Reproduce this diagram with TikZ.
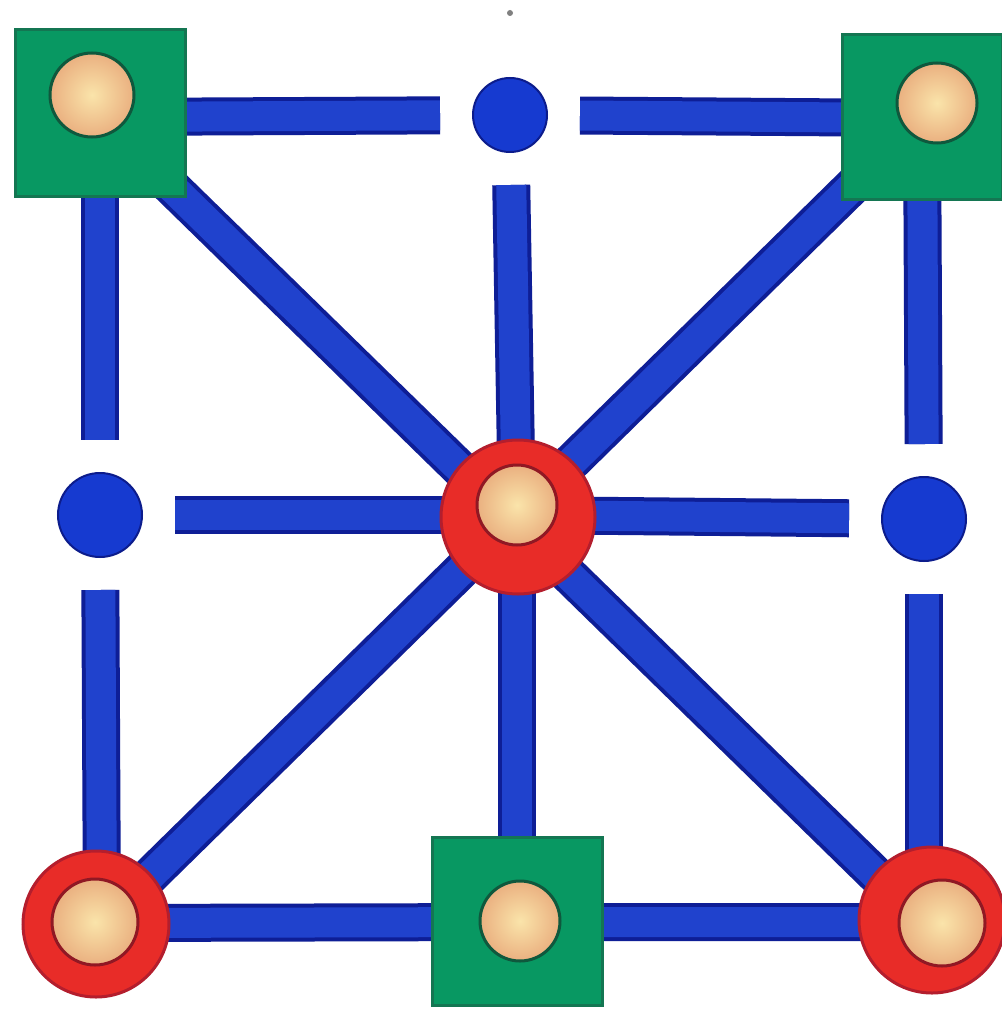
\documentclass[tikz,border=0pt]{standalone}
\usetikzlibrary{backgrounds}
\definecolor{lineblue}{RGB}{32,66,205}
\definecolor{lineedge}{RGB}{14,30,150}
\definecolor{dotblue}{RGB}{22,58,208}
\definecolor{dotedge}{RGB}{12,28,140}
\definecolor{sqgreen}{RGB}{8,152,98}
\definecolor{sqedge}{RGB}{20,118,82}
\definecolor{ringred}{RGB}{232,44,40}
\definecolor{ringedge}{RGB}{180,30,45}
\definecolor{pegin}{RGB}{250,228,170}
\definecolor{pegout}{RGB}{234,176,128}
\begin{document}
\begin{tikzpicture}[x=1pt,y=-1pt,
  board/.style={draw=lineedge, line width=38pt, postaction={draw=lineblue, line width=30pt}},
  sq/.style={rectangle, fill=sqgreen, draw=sqedge, line width=3pt, inner sep=0pt},
  ring/.style={circle, fill=ringred, draw=ringedge, line width=3pt, inner sep=0pt},
  dot/.style={circle, fill=dotblue, draw=dotedge, line width=2pt, inner sep=0pt, outer sep=33pt},
  peg/.style={circle, inner sep=0pt, draw=#1, line width=3pt, inner color=pegin, outer color=pegout}
]
\useasboundingbox (0,0) rectangle (1001,1016);
% grid points hidden under the pieces
\coordinate (gtl) at (100,117);
\coordinate (gtr) at (922,118);
\coordinate (gc)  at (517,515);
\coordinate (gbl) at (102,923);
\coordinate (gbm) at (517,922);
\coordinate (gbr) at (924,922);
% board points
\node[sq, minimum width=170pt, minimum height=167pt] (tl) at (100,113) {};
\node[sq, minimum width=160pt, minimum height=165pt] (tr) at (922,117) {};
\node[sq, minimum width=170pt, minimum height=168pt] (bm) at (517,921) {};
\node[ring, minimum size=154pt] (c) at (518,517) {};
\node[ring, minimum size=146pt] (bl) at (96,924) {};
\node[ring, minimum size=146pt] (br) at (932,920) {};
\node[dot, minimum size=74pt] (tm) at (510,115) {};
\node[dot, minimum size=84pt] (ml) at (100,515) {};
\node[dot, minimum size=84pt] (mr) at (924,519) {};
% pegs
\node[peg=sqedge!75!black, minimum size=84pt] (ptl) at (92,95) {};
\node[peg=sqedge!75!black, minimum size=80pt] (ptr) at (937,103) {};
\node[peg=sqedge!75!black, minimum size=80pt] (pbm) at (520,921) {};
\node[peg=ringedge!80!black, minimum size=80pt] (pc) at (517,505) {};
\node[peg=ringedge!80!black, minimum size=86pt] (pbl) at (95,922) {};
\node[peg=ringedge!80!black, minimum size=86pt] (pbr) at (942,923) {};
\begin{pgfonlayer}{background}
  \fill[white] (0,0) rectangle (1001,1016);
  \fill[gray] (510,13) circle (3);
  \draw[board] (gtl) -- (tm);
  \draw[board] (tm) -- (gtr);
  \draw[board] (gtl) -- (ml);
  \draw[board] (ml) -- (gbl);
  \draw[board] (gtr) -- (mr);
  \draw[board] (mr) -- (gbr);
  \draw[board] (gbl) -- (gbm) -- (gbr);
  \draw[board] (tm) -- (gc);
  \draw[board] (gc) -- (gbm);
  \draw[board] (ml) -- (gc);
  \draw[board] (gc) -- (mr);
  \draw[board] (gtl) -- (gbr);
  \draw[board] (gtr) -- (gbl);
\end{pgfonlayer}
\end{tikzpicture}
\end{document}
